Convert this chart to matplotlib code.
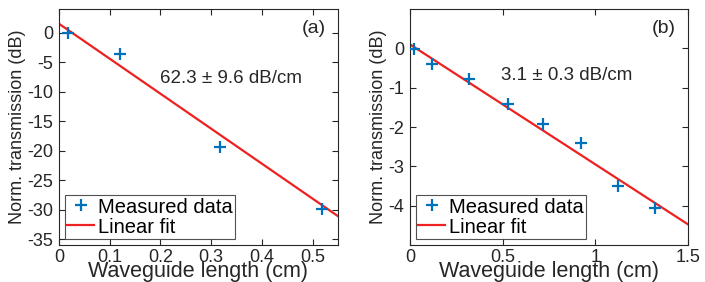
import numpy as np
import matplotlib
matplotlib.use("Agg")
import matplotlib.pyplot as plt

plt.rcParams['font.family'] = ['Liberation Sans', 'DejaVu Sans']

# Panel (a) data
len_a = [0.018, 0.12, 0.318, 0.518]
trans_a = [0.0, -3.6, -19.4, -29.9]
fit_a = [-59.3, 1.5]          # slope, intercept of drawn fit
# Panel (b) data
len_b = [0.02, 0.12, 0.32, 0.53, 0.72, 0.92, 1.12, 1.32]
trans_b = [-0.02, -0.40, -0.77, -1.42, -1.93, -2.40, -3.51, -4.07]
fit_b = [-3.05, 0.10]

labels = ["(a)", "(b)"]
annot = ["62.3 \u00b1 9.6 dB/cm", "3.1 \u00b1 0.3 dB/cm"]
xticks_a = [0, 0.1, 0.2, 0.3, 0.4, 0.5]
yticks_a = [0, -5, -10, -15, -20, -25, -30, -35]
xticks_b = [0, 0.5, 1, 1.5]
yticks_b = [0, -1, -2, -3, -4]

blue = '#0072BD'
red = '#EE2020'
dark = '#262626'

fig = plt.figure(figsize=(7.05, 2.82), dpi=100)
ax1 = fig.add_axes([59/705, 1-245/282, (338-59)/705, (245-9)/282])
ax2 = fig.add_axes([410/705, 1-245/282, (688-410)/705, (245-9)/282])

configs = [
    (ax1, len_a, trans_a, fit_a, (0, 0.55), (-36, 4), xticks_a, yticks_a,
     ['0', '0.1', '0.2', '0.3', '0.4', '0.5'], [str(v) for v in yticks_a], (0.199, -7.8)),
    (ax2, len_b, trans_b, fit_b, (0, 1.5), (-5, 1), xticks_b, yticks_b,
     ['0', '0.5', '1', '1.5'], [str(v) for v in yticks_b], (0.49, -0.69)),
]

for i, (ax, xs, ys, fit, xl, yl, xt, yt, xtl, ytl, tpos) in enumerate(configs):
    xf = np.array(xl)
    ax.plot(xf, np.polyval(fit, xf), color=red, lw=1.6, label='Linear fit', zorder=2)
    ax.plot(xs, ys, '+', color=blue, ms=9, mew=1.6, label='Measured data', zorder=3)
    ax.set_xlim(*xl)
    ax.set_ylim(*yl)
    ax.set_xticks(xt)
    ax.set_xticklabels(xtl)
    ax.set_yticks(yt)
    ax.set_yticklabels(ytl)
    ax.tick_params(axis='y', pad=4)
    ax.tick_params(axis='x', pad=3)
    ax.tick_params(direction='in', top=True, right=True, labelsize=13, length=4,
                   width=0.8, colors=dark)
    for s in ax.spines.values():
        s.set_color(dark)
        s.set_linewidth(0.8)
    ax.set_xlabel('Waveguide length (cm)', fontsize=15.5, color=dark, va='baseline')
    ax.xaxis.set_label_coords(0.5, (245 - 277.5) / 236)
    ax.set_ylabel('Norm. transmission (dB)', fontsize=13, labelpad=1, color=dark)
    ax.text(0.955, 0.955, labels[i], transform=ax.transAxes, ha='right', va='top',
            fontsize=14, color=dark)
    ax.text(tpos[0], tpos[1], annot[i], ha='left', va='center', fontsize=13.5, color=dark)
    h, l = ax.get_legend_handles_labels()
    leg = ax.legend(h[::-1], l[::-1], loc='lower left', fontsize=14.5, frameon=True, fancybox=False,
                    edgecolor=dark, borderpad=0.12, handlelength=1.3, handletextpad=0.2,
                    labelspacing=0.05, borderaxespad=0.3)
    leg.get_frame().set_linewidth(0.8)

fig.savefig('out.png', dpi=100)
